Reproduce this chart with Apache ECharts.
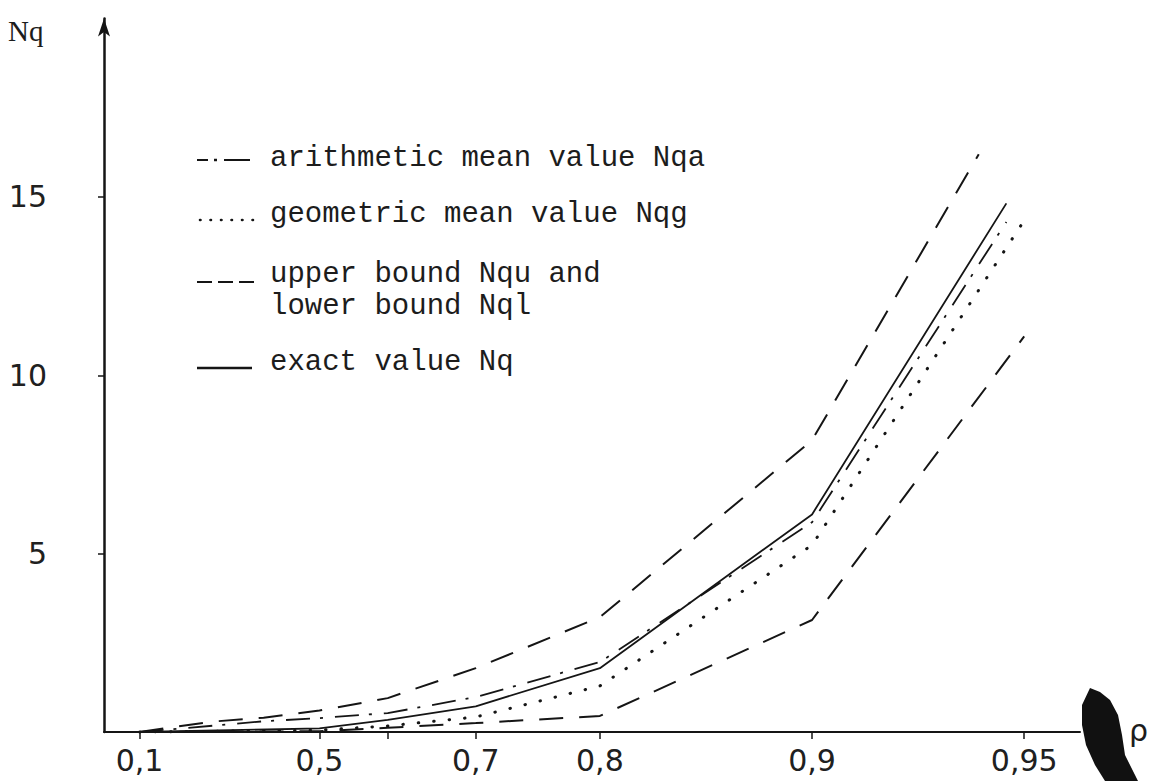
<!DOCTYPE html>
<html><head><meta charset="utf-8">
<script src="https://cdn.jsdelivr.net/npm/echarts@6/dist/echarts.min.js"></script>
<style>html,body{margin:0;padding:0;background:#fff}#c{width:1149px;height:781px}</style>
</head><body><div id="c"></div>
<script>
// ---- axis ticks (rho) and labels ----
const rhoTicks = [0.1, 0.5, 0.6, 0.7, 0.8, 0.9, 0.95];
const rhoLabelTicks = [0.1, 0.5, 0.7, 0.8, 0.9, 0.95];
const rhoTickLabels = ['0,1', '0,5', '0,7', '0,8', '0,9', '0,95'];
const yTicks = [5, 10, 15];

// ---- series (rho, Nq) ----
const upperRho = [0.1, 0.2, 0.3, 0.4, 0.5, 0.6, 0.7, 0.8, 0.9, 0.942];
const upperNq  = [0, 0.15, 0.3, 0.4, 0.6, 0.95, 1.79, 3.22, 8.18, 16.2];
const arithRho = [0.1, 0.4, 0.5, 0.6, 0.7, 0.8, 0.9, 0.947];
const arithNq  = [0, 0.3, 0.39, 0.53, 0.98, 1.96, 5.88, 14.3];
const exactRho = [0.1, 0.5, 0.6, 0.7, 0.8, 0.9, 0.947];
const exactNq  = [0, 0.1, 0.34, 0.72, 1.79, 6.1, 14.82];
const geomRho  = [0.1, 0.5, 0.6, 0.7, 0.8, 0.9, 0.95];
const geomNq   = [0, 0.05, 0.17, 0.42, 1.29, 5.24, 14.34];
const lowerRho = [0.1, 0.5, 0.6, 0.7, 0.8, 0.9, 0.95];
const lowerNq  = [0, 0.02, 0.12, 0.25, 0.45, 3.14, 11.09];

// horizontal scale of the original: log of 1/(1-rho)
const toU = r => 1 / (1 - r);
const pairs = (rs, vs) => rs.map((r, i) => [toU(r), vs[i]]);

const INK = '#151515';
const chart = echarts.init(document.getElementById('c'), null, {renderer: 'svg'});

function lineSeries(name, rs, vs, style) {
  return {
    name, type: 'line', data: pairs(rs, vs), symbol: 'none', smooth: false,
    silent: true, animation: false, clip: false,
    lineStyle: Object.assign({color: INK}, style)
  };
}

const monoText = (text, x, y) => ({
  type: 'text', left: x, top: y - 17,
  style: {text, font: '29px "Liberation Mono", monospace', fill: '#1c1c1c'}
});
const seg = (x1, y1, x2, y2, extra) => ({
  type: 'line', shape: {x1, y1, x2, y2},
  style: Object.assign({stroke: INK, lineWidth: 2}, extra || {})
});

chart.setOption({
  backgroundColor: '#ffffff',
  animation: false,
  grid: {left: 104, right: 69, top: 18.6, bottom: 49, containLabel: false},
  xAxis: {
    type: 'log', logBase: 10, min: 0.9893, max: 24.0,
    axisLine: {show: true, lineStyle: {color: INK, width: 2}},
    splitLine: {show: false},
    minorTick: {show: false},
    axisTick: {show: true, length: 7, lineStyle: {color: INK, width: 1.5},
      customValues: rhoTicks.map(toU)},
    axisLabel: {
      customValues: rhoLabelTicks.map(toU),
      margin: 13, color: '#202020',
      fontFamily: '"DejaVu Sans", sans-serif', fontSize: 30,
      formatter: function (v) {
        let best = 0, bd = Infinity;
        rhoLabelTicks.forEach((r, i) => {
          const d = Math.abs(Math.log(toU(r)) - Math.log(v));
          if (d < bd) { bd = d; best = i; }
        });
        return rhoTickLabels[best];
      }
    }
  },
  yAxis: {
    type: 'value', min: 0, max: 20, interval: 5,
    axisLine: {show: true, onZero: false, symbol: ['none', 'arrow'], symbolSize: [9, 18],
      lineStyle: {color: INK, width: 2.5}},
    splitLine: {show: false},
    axisTick: {show: true, length: 6, lineStyle: {color: INK, width: 1.5}, customValues: yTicks},
    axisLabel: {customValues: yTicks, margin: 57, color: '#202020',
      fontFamily: '"DejaVu Sans", sans-serif', fontSize: 30}
  },
  series: [
    lineSeries('upper bound Nqu', upperRho, upperNq, {width: 2, type: [24, 16]}),
    lineSeries('arithmetic mean value Nqa', arithRho, arithNq, {width: 1.8, type: [24, 10, 3, 12]}),
    lineSeries('exact value Nq', exactRho, exactNq, {width: 1.8, type: 'solid'}),
    lineSeries('geometric mean value Nqg', geomRho, geomNq, {width: 3, type: [0.5, 15], cap: 'round'}),
    lineSeries('lower bound Nql', lowerRho, lowerNq, {width: 2, type: [24, 16]})
  ],
  graphic: [
    // legend keys
    seg(197, 160, 208, 160), seg(214, 160, 217, 160, {lineWidth: 2.5}), seg(224, 160, 250, 160),
    seg(200, 220, 258, 220, {lineWidth: 2.6, lineDash: [0.5, 10], lineCap: 'round'}),
    seg(197, 282, 258, 282, {lineDash: [15, 6]}),
    seg(197, 368, 252, 368, {lineWidth: 2.5}),
    // legend texts
    monoText('arithmetic mean value Nqa', 270, 161),
    monoText('geometric mean value Nqg', 270, 217),
    monoText('upper bound Nqu and', 270, 277),
    monoText('lower bound Nql', 270, 309),
    monoText('exact value Nq', 270, 365),
    // axis names
    {type: 'text', left: 8, top: 16, style: {text: 'Nq', font: '29px "Liberation Serif", serif', fill: '#1c1c1c'}},
    {type: 'text', left: 1129, top: 715, style: {text: 'ρ', font: '30px "DejaVu Sans", sans-serif', fill: '#1c1c1c'}},
    // ink smear over the x-axis arrow head
    {type: 'polygon', shape: {points: [[1090,688],[1100,692],[1110,700],[1118,715],[1122,735],[1125,755],[1135,775],[1138,781],[1105,781],[1095,765],[1086,745],[1082,725],[1082,705]]},
      style: {fill: '#111'}}
  ]
});
</script></body></html>
